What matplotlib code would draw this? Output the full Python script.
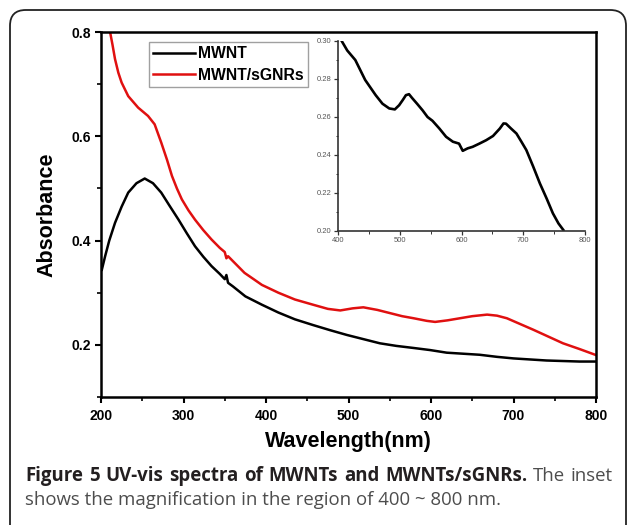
import matplotlib
matplotlib.use("Agg")
import matplotlib.pyplot as plt
from matplotlib.patches import FancyBboxPatch
from matplotlib.ticker import MultipleLocator

# ---------------- data ----------------
mwnt_wl = [201, 205, 210, 217, 225, 233, 243, 253, 263, 273, 283, 294, 304, 314,
           324, 334, 344, 350, 352, 354, 360, 375, 395, 415, 435, 457, 478, 498,
           518, 538, 558, 579, 599, 619, 639, 659, 680, 700, 720, 740, 760, 780, 799]
mwnt_abs = [0.344, 0.370, 0.400, 0.434, 0.465, 0.492, 0.510, 0.519, 0.510, 0.492,
            0.467, 0.440, 0.414, 0.389, 0.369, 0.351, 0.336, 0.326, 0.334, 0.319,
            0.312, 0.293, 0.277, 0.262, 0.249, 0.238, 0.228, 0.219, 0.211, 0.203,
            0.198, 0.194, 0.190, 0.185, 0.183, 0.181, 0.177, 0.174, 0.172, 0.170,
            0.169, 0.168, 0.168]

gnr_wl = [211, 214, 217, 221, 225, 233, 245, 257, 265, 273, 280, 286, 292, 298,
          306, 314, 324, 334, 344, 350, 352, 354, 364, 374, 385, 395, 415, 435,
          457, 475, 490, 505, 518, 535, 550, 565, 579, 595, 605, 620, 635, 650,
          668, 680, 692, 708, 724, 742, 760, 780, 799]
gnr_abs = [0.800, 0.775, 0.748, 0.722, 0.703, 0.677, 0.655, 0.639, 0.623, 0.588,
           0.555, 0.524, 0.500, 0.479, 0.458, 0.440, 0.420, 0.402, 0.386, 0.378,
           0.366, 0.370, 0.354, 0.338, 0.326, 0.315, 0.300, 0.287, 0.277, 0.269,
           0.266, 0.270, 0.272, 0.267, 0.261, 0.255, 0.251, 0.246, 0.244, 0.247,
           0.251, 0.255, 0.258, 0.256, 0.251, 0.240, 0.229, 0.216, 0.203, 0.192,
           0.181]

inset_wl = [406, 415, 428, 444, 461, 472, 483, 492, 499, 505, 510, 515, 520, 528,
            537, 545, 553, 564, 575, 586, 596, 602, 610, 618, 629, 640, 651, 662,
            668, 672, 680, 689, 697, 705, 716, 727, 738, 748, 757, 765]
inset_abs = [0.300, 0.295, 0.290, 0.2795, 0.2715, 0.267, 0.2645, 0.2640, 0.2662,
             0.269, 0.2715, 0.272, 0.270, 0.267, 0.2635, 0.260, 0.258, 0.254,
             0.2496, 0.247, 0.246, 0.2422, 0.2435, 0.2443, 0.246, 0.2478, 0.250,
             0.2539, 0.2566, 0.2565, 0.254, 0.2513, 0.247, 0.2426, 0.234, 0.225,
             0.217, 0.2093, 0.204, 0.2005]

main_xticks = [200, 300, 400, 500, 600, 700, 800]
main_yticks = [0.2, 0.4, 0.6, 0.8]
inset_xticks = [400, 500, 600, 700, 800]
inset_yticks = [0.20, 0.22, 0.24, 0.26, 0.28, 0.30]

labels = ["MWNT", "MWNT/sGNRs"]
caption_bold = "Figure 5 UV-vis spectra of MWNTs and MWNTs/sGNRs."
caption_line1 = "The inset"
caption_line2 = "shows the magnification in the region of 400 ~ 800 nm."

W, H = 629, 525
fig = plt.figure(figsize=(W / 100, H / 100), dpi=100)

def px_axes(l, t, r, b):
    return [l / W, 1 - b / H, (r - l) / W, (b - t) / H]

FONT = "Liberation Sans"

# frame around figure
frame = FancyBboxPatch((10 / W, -0.05), (626 - 10) / W, (H - 10) / H + 0.05,
                       boxstyle="round,pad=0,rounding_size=0.025",
                       transform=fig.transFigure, fill=False,
                       edgecolor="#222222", linewidth=1.3, mutation_aspect=W / H)
fig.patches.append(frame)

# ---------------- main axes ----------------
ax = fig.add_axes(px_axes(101, 32, 596, 397))
ax.plot(mwnt_wl, mwnt_abs, color="black", lw=1.8, label=labels[0])
ax.plot(gnr_wl, gnr_abs, color="#e01010", lw=1.8, label=labels[1])
ax.set_xlim(200, 800)
ax.set_ylim(0.1, 0.8)
ax.set_xticks(main_xticks)
ax.set_yticks(main_yticks)
ax.xaxis.set_minor_locator(MultipleLocator(50))
ax.yaxis.set_minor_locator(MultipleLocator(0.1))
ax.tick_params(axis="x", which="major", direction="out", length=4.5, width=1.5,
               top=False, pad=4)
ax.tick_params(axis="y", which="major", direction="out", length=4.5, width=1.5,
               right=False, pad=2.5)
ax.tick_params(which="minor", direction="out", length=3, width=1.2,
               top=False, right=False)
for s in ax.spines.values():
    s.set_linewidth(1.8)
ax.set_xticklabels([str(v) for v in main_xticks], fontfamily=FONT,
                   fontweight="bold", fontsize=10)
ax.set_yticklabels([f"{v:.1f}" for v in main_yticks], fontfamily=FONT,
                   fontweight="bold", fontsize=10)
ax.set_xlabel("Wavelength(nm)", fontfamily=FONT, fontweight="bold",
              fontsize=15.5, labelpad=6)
ax.set_ylabel("Absorbance", fontfamily=FONT, fontweight="bold",
              fontsize=15.5, labelpad=10)

leg = ax.legend(loc="upper left", bbox_to_anchor=((149 - 101) / 495, (397 - 42) / 365),
                borderaxespad=0, frameon=True, fancybox=False,
                prop={"family": FONT, "weight": "bold", "size": 11.3},
                handlelength=2.65, handletextpad=0.2, borderpad=0.28,
                labelspacing=0.4)
leg.get_frame().set_edgecolor("#888888")
leg.get_frame().set_linewidth(1.0)

# ---------------- inset ----------------
ins = fig.add_axes(px_axes(338, 41, 585, 231))
ins.plot(inset_wl, inset_abs, color="black", lw=1.9)
ins.set_xlim(400, 800)
ins.set_ylim(0.20, 0.30)
ins.set_xticks(inset_xticks)
ins.set_yticks(inset_yticks)
ins.xaxis.set_minor_locator(MultipleLocator(50))
ins.yaxis.set_minor_locator(MultipleLocator(0.01))
ins.spines["top"].set_visible(False)
ins.spines["right"].set_visible(False)
for s in ("left", "bottom"):
    ins.spines[s].set_linewidth(1.2)
    ins.spines[s].set_color("#333333")
ins.tick_params(which="major", direction="out", length=3, width=0.9,
                color="#333333", pad=1.5)
ins.tick_params(which="minor", direction="out", length=1.8, width=0.7,
                color="#333333")
ins.set_xticklabels([str(v) for v in inset_xticks], fontfamily=FONT,
                    fontsize=5.5, color="#555555")
ins.set_yticklabels([f"{v:.2f}" for v in inset_yticks], fontfamily=FONT,
                    fontsize=5.5, color="#555555")
ins.patch.set_alpha(0)

# ---------------- caption (line 1 justified) ----------------
cap_font = "Open Sans"
cap_size = 13.4
bold_col, norm_col = "#231f20", "#4d4d4d"
words = [(w, "bold", bold_col) for w in caption_bold.split()] + \
        [(w, "normal", norm_col) for w in caption_line1.split()]
renderer = fig.canvas.get_renderer()
y1 = 1 - 476 / H
objs = []
for w, wt, col in words:
    t = fig.text(0, y1, w, fontfamily=cap_font, fontweight=wt, fontsize=cap_size,
                 color=col, va="center", ha="left")
    objs.append(t)
widths = [t.get_window_extent(renderer).width for t in objs]
x_left, x_right = 25.0, 613.0
gap = (x_right - x_left - sum(widths)) / (len(objs) - 1)
x = x_left
for t, wd in zip(objs, widths):
    t.set_x(x / W)
    x += wd + gap
fig.text(25 / W, 1 - 500 / H, caption_line2, fontfamily=cap_font,
         fontsize=cap_size, color=norm_col, va="center", ha="left")

fig.savefig("out.png", dpi=100)
